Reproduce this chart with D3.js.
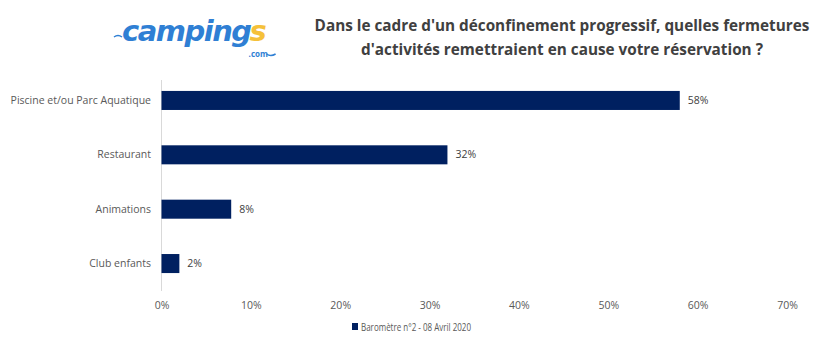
<!DOCTYPE html>
<html>
<head>
<meta charset="utf-8">
<script src="https://cdn.jsdelivr.net/npm/d3@7"></script>
<style>
  body { margin: 0; background: #fff; }
  text { font-family: "Open Sans", "Liberation Sans", sans-serif; }
</style>
</head>
<body>
<svg id="svg" width="815" height="352"></svg>
<script>
const categories = ["Piscine et/ou Parc Aquatique", "Restaurant", "Animations", "Club enfants"];
const values = [0.58, 0.32, 0.078, 0.02];
const valueLabels = ["58%", "32%", "8%", "2%"];
const xTicks = [0, 0.1, 0.2, 0.3, 0.4, 0.5, 0.6, 0.7];
const seriesName = "Baromètre n°2 - 08 Avril 2020";
const titleLines = ["Dans le cadre d'un déconfinement progressif, quelles fermetures",
                    "d'activités remettraient en cause votre réservation ?"];

const svg = d3.select("#svg");
const barColor = "#002060";
const labelColor = "#595959";

const x = d3.scaleLinear().domain([0, 0.7]).range([161.5, 787]);
const y = d3.scaleBand().domain(categories).range([73, 291]).paddingInner(0.65).paddingOuter(0.33);

// logo (approximation en texte)
const logo = svg.append("g").attr("transform", "translate(122,41)");
const logoFont = t => t
    .style("font-family", "'DejaVu Sans', sans-serif")
    .style("font-style", "italic").style("font-weight", "bold")
    .style("font-size", "29px").style("letter-spacing", "-1.5px");
const word = logo.append("text").attr("x", 0).attr("y", 0)
    .call(logoFont).style("fill", "#2f7fd4").text("camping");
const wl = word.node().getComputedTextLength();
logo.append("text").attr("x", wl - 1).attr("y", 0)
    .call(logoFont).style("fill", "#f5c13a").text("s");
logo.append("text")
    .attr("x", wl - 2).attr("y", 16)
    .style("font-size", "8px").style("fill", "#2f7fd4").style("font-weight", "bold")
    .text(".com");
logo.append("path")
    .attr("d", `M-8,-4 q4,-3 8,0 M${wl + 16},13 q4,3 9,0`)
    .attr("fill", "none").attr("stroke", "#2f7fd4").attr("stroke-width", 1.5);

// titre
svg.append("g").selectAll("text").data(titleLines).join("text")
    .attr("x", 562).attr("y", (d, i) => 31 + i * 24)
    .attr("text-anchor", "middle")
    .style("font-size", "15.3px").style("font-weight", "bold")
    .style("fill", "#404040")
    .text(d => d);

// axe vertical
svg.append("line")
    .attr("x1", x(0)).attr("x2", x(0))
    .attr("y1", 80).attr("y2", 291)
    .attr("stroke", "#d9d9d9").attr("stroke-width", 1);

// barres
svg.append("g").selectAll("rect").data(values).join("rect")
    .attr("x", x(0))
    .attr("y", (d, i) => y(categories[i]))
    .attr("width", d => x(d) - x(0))
    .attr("height", y.bandwidth())
    .attr("fill", barColor);

// étiquettes des valeurs
svg.append("g").selectAll("text").data(values).join("text")
    .attr("x", d => x(d) + 8)
    .attr("y", (d, i) => y(categories[i]) + y.bandwidth() / 2)
    .attr("dy", "0.35em")
    .style("font-size", "10.5px").style("fill", "#404040")
    .text((d, i) => valueLabels[i]);

// catégories
svg.append("g").selectAll("text").data(categories).join("text")
    .attr("x", 151)
    .attr("y", d => y(d) + y.bandwidth() / 2)
    .attr("dy", "0.35em")
    .attr("text-anchor", "end")
    .style("font-size", "10.5px").style("fill", labelColor)
    .text(d => d);

// graduations x
const xAxis = d3.axisBottom(x).tickValues(xTicks).tickFormat(d3.format(".0%")).tickSize(0).tickPadding(0);
const gx = svg.append("g").attr("transform", "translate(0,309)").call(xAxis);
gx.select(".domain").remove();
gx.selectAll("text")
    .attr("dy", 0)
    .style("font-family", "'Open Sans', sans-serif")
    .style("font-size", "10.5px").style("fill", labelColor);

// légende
const leg = svg.append("g").attr("transform", "translate(352,327)");
leg.append("rect").attr("x", 0).attr("y", -4).attr("width", 6).attr("height", 7).attr("fill", barColor);
leg.append("text").attr("x", 9).attr("y", 0).attr("dy", "0.35em")
    .attr("textLength", 110).attr("lengthAdjust", "spacingAndGlyphs")
    .style("font-size", "10.5px").style("fill", labelColor)
    .text(seriesName);
</script>
</body>
</html>
